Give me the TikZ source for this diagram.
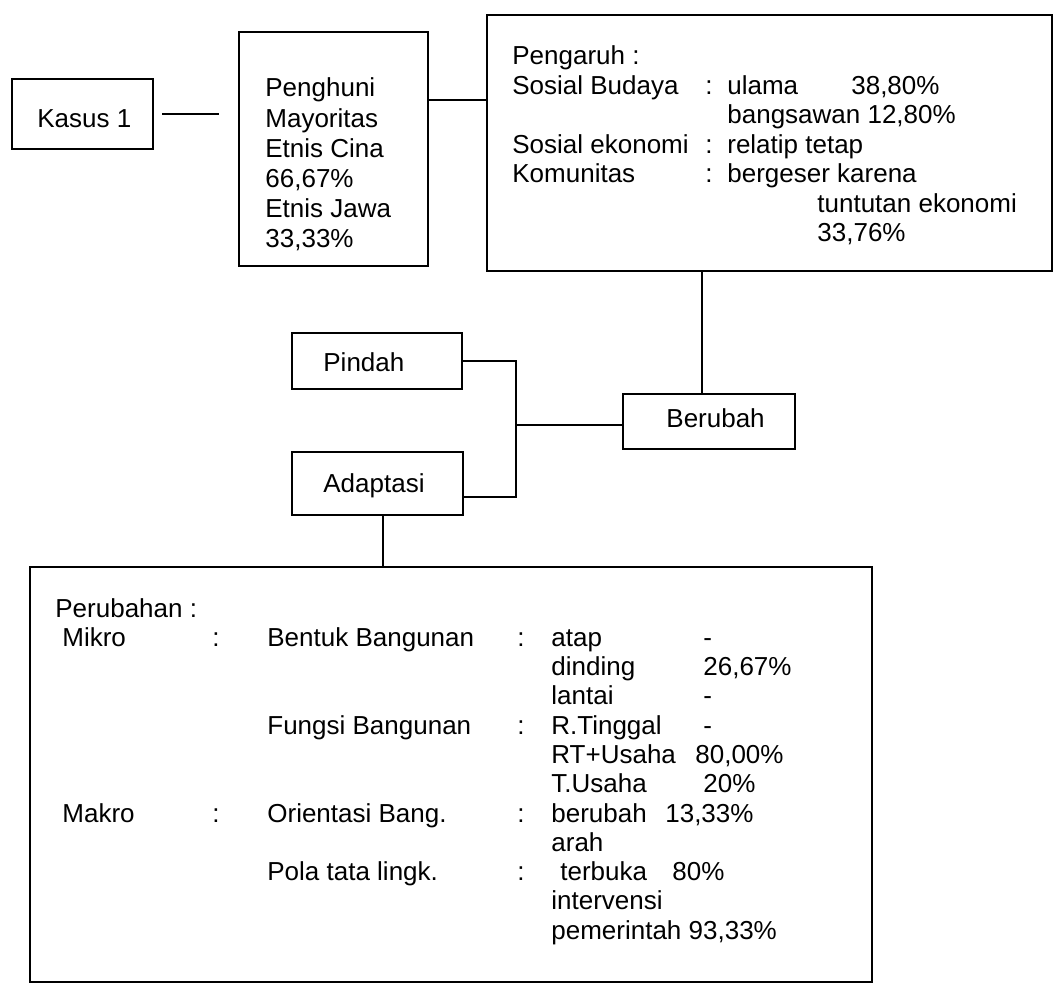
\documentclass[tikz,border=0pt]{standalone}
\usepackage{fontspec}
\setmainfont{Liberation Sans}
\usepackage{array}
\newlength{\du}
\setlength{\du}{0.5pt}
\definecolor{dialinecolor}{rgb}{0.000000, 0.000000, 0.000000}
\tikzset{
  box/.style={draw=dialinecolor, line width=2\du, rectangle, inner sep=0pt},
  lbl/.style={inner sep=0pt, anchor=base west, font=\fontsize{13}{15.1}\selectfont},
  link/.style={draw=dialinecolor, line width=2\du}
}

\begin{document}
\begin{tikzpicture}
\pgftransformxscale{1.000000}
\pgftransformyscale{-1.000000}
\path[use as bounding box, fill=white] (0\du,0\du) rectangle (1054\du,983\du);
% boxes
\node[box, minimum width=141\du, minimum height=70\du] (kasus) at (82.5\du,114\du) {};
\node[box, minimum width=189\du, minimum height=234\du] (penghuni) at (333.5\du,149\du) {};
\node[box, minimum width=565\du, minimum height=256\du] (pengaruh) at (769.5\du,143\du) {};
\node[box, minimum width=172\du, minimum height=55\du] (berubah) at (709\du,421.5\du) {};
\node[box, minimum width=170\du, minimum height=56\du] (pindah) at (377\du,361\du) {};
\node[box, minimum width=171\du, minimum height=63\du] (adaptasi) at (377.5\du,483.5\du) {};
\node[box, minimum width=842\du, minimum height=415\du] (perubahan) at (451\du,774.5\du) {};
% texts
\node[lbl] (kasus-t) at (37\du,128\du) {Kasus 1};
\node[lbl] (pindah-t) at (323\du,372\du) {Pindah};
\node[lbl] (adaptasi-t) at (323\du,493\du) {Adaptasi};
\node[lbl] (berubah-t) at (666\du,428\du) {Berubah};
\node[lbl] (penghuni-t) at (265\du,97\du) {\begin{tabular}[t]{@{}l@{}}
Penghuni\\ Mayoritas\\ Etnis Cina\\ 66,67\%\\ Etnis Jawa\\ 33,33\%
\end{tabular}};
\node[lbl, font=\fontsize{13}{14.75}\selectfont] (pengaruh-t) at (512\du,65\du) {\begin{tabular}[t]{@{}p{96.5pt}@{}p{11pt}@{}l@{}}
\multicolumn{3}{@{}l@{}}{Pengaruh :}\\
Sosial Budaya & : & \makebox[62pt][l]{ulama}38,80\%\\
 & & bangsawan 12,80\%\\
Sosial ekonomi & : & relatip tetap\\
Komunitas & : & bergeser karena\\
 & & \hspace*{45pt}tuntutan ekonomi\\
 & & \hspace*{45pt}33,76\%
\end{tabular}};
\node[lbl, font=\fontsize{13}{14.65}\selectfont] (perubahan-t) at (55\du,617\du) {\begin{tabular}[t]{@{}p{78.5pt}@{}p{27.5pt}@{}p{125pt}@{}p{17pt}@{}p{76pt}@{}l@{}}
\multicolumn{6}{@{}l@{}}{Perubahan :}\\
\hspace*{3.5pt}Mikro & : & Bentuk Bangunan & : & atap & -\\
 & & & & dinding & 26,67\%\\
 & & & & lantai & -\\
 & & Fungsi Bangunan & : & R.Tinggal & -\\
 & & & & \multicolumn{2}{@{}l@{}}{\makebox[72pt][l]{RT+Usaha}80,00\%}\\
 & & & & T.Usaha & 20\%\\
\hspace*{3.5pt}Makro & : & Orientasi Bang. & : & \multicolumn{2}{@{}l@{}}{\makebox[57pt][l]{berubah}13,33\%}\\
 & & & & arah & \\
 & & Pola tata lingk. & : & \multicolumn{2}{@{}l@{}}{\hspace*{4.5pt}\makebox[56pt][l]{terbuka}80\%}\\
 & & & & intervensi & \\
 & & & & \multicolumn{2}{@{}l@{}}{pemerintah 93,33\%}
\end{tabular}};
% connectors
\coordinate (pengaruh-in) at (487\du,100\du);
\coordinate (berubah-up) at (702\du,394\du);
\coordinate (fork) at (516\du,425\du);
\coordinate (adaptasi-arm) at (463\du,497\du);
\coordinate (adaptasi-down) at (383\du,515\du);
\draw[link, shorten <=8\du, shorten >=19\du] (kasus.east) -- (kasus.east -| penghuni.west);
\draw[link] (penghuni.east |- pengaruh-in) -- (pengaruh.west |- pengaruh-in);
\draw[link] (pengaruh.south -| berubah-up) -- (berubah.north -| berubah-up);
\draw[link] (pindah.east) -| (fork) |- (adaptasi.east |- adaptasi-arm);
\draw[link] (fork) -- (berubah.west |- fork);
\draw[link] (adaptasi.south -| adaptasi-down) -- (perubahan.north -| adaptasi-down);
\end{tikzpicture}
\end{document}
